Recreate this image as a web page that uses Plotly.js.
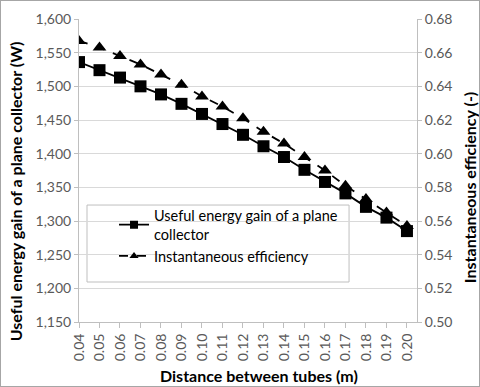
<!DOCTYPE html>
<html>
<head>
<meta charset="utf-8">
<script src="https://cdn.plot.ly/plotly-3.0.1.min.js"></script>
<style>
  body { margin: 0; background: #fff; }
  #frame { width: 480px; height: 387px; box-sizing: border-box; border: 1px solid #a6a6a6; }
  #chart { width: 478px; height: 385px; }
</style>
</head>
<body>
<div id="frame"><div id="chart"></div></div>
<script>
// distance between tubes (m)
const distance = [0.04, 0.05, 0.06, 0.07, 0.08, 0.09, 0.10, 0.11, 0.12,
                  0.13, 0.14, 0.15, 0.16, 0.17, 0.18, 0.19, 0.20];
// useful energy gain (W), left axis
const energyGain = [1536, 1524, 1513, 1500, 1488, 1474, 1459, 1444, 1428,
                    1411, 1395, 1376, 1358, 1341, 1321, 1305, 1285];
// instantaneous efficiency (-), right axis
const efficiency = [0.667, 0.663, 0.658, 0.653, 0.647, 0.641, 0.634, 0.628, 0.621,
                    0.613, 0.606, 0.598, 0.590, 0.581, 0.573, 0.565, 0.557];

const xTicks = distance.map(d => d.toFixed(2));
const leftTicks = [1150, 1200, 1250, 1300, 1350, 1400, 1450, 1500, 1550, 1600];
const rightTicks = [0.50, 0.52, 0.54, 0.56, 0.58, 0.60, 0.62, 0.64, 0.66, 0.68];

const energyName = "Useful energy gain of a plane<br>collector";
const effName = "Instantaneous efficiency";

const font = "Lato, 'Liberation Sans', sans-serif";
const grid = "#d9d9d9";
const axisLine = "#bfbfbf";
const tickColor = "#595959";

var trace1 = {
  x: distance,
  y: energyGain,
  name: energyName,
  type: "scatter",
  mode: "lines+markers",
  line: { color: "#000", width: 1.8 },
  marker: { symbol: "square", size: 12, color: "#000" },
  showlegend: false,
  yaxis: "y"
};

var trace2 = {
  x: distance,
  y: efficiency,
  name: effName,
  type: "scatter",
  mode: "lines+markers",
  line: { color: "#000", width: 1.8, dash: "dash" },
  marker: { symbol: "triangle-up", size: 12, color: "#000" },
  showlegend: false,
  yaxis: "y2"
};

// legend-only entries, the original legend uses smaller markers than the plot
var legend1 = {
  x: [null], y: [null], name: energyName, type: "scatter", mode: "lines+markers",
  line: { color: "#000", width: 1.8 },
  marker: { symbol: "square", size: 8, color: "#000" }
};
var legend2 = {
  x: [null], y: [null], name: effName, type: "scatter", mode: "lines+markers",
  line: { color: "#000", width: 1.8, dash: "dash" },
  marker: { symbol: "triangle-up", size: 8, color: "#000" }
};

// axis titles are placed as annotations so they sit where the original had them
var titles = [
  { text: "<b>Useful energy gain of a plane collector (W)</b>", x: -0.189, y: 0.432, textangle: -90 },
  { text: "<b>Instantaneous efficiency (-)</b>", x: 1.154, y: 0.442, textangle: -90 },
  { text: "<b>Distance between tubes (m)</b>", x: 0.5325, y: -0.175, textangle: 0 }
].map(t => Object.assign({
  xref: "paper", yref: "paper", xanchor: "center", yanchor: "middle",
  showarrow: false, font: { family: font, size: 16, color: "#000" }
}, t));

var layout = {
  width: 478,
  height: 385,
  margin: { l: 78, r: 62, t: 18, b: 64 },
  paper_bgcolor: "#fff",
  plot_bgcolor: "#fff",
  font: { family: font, size: 14, color: tickColor },
  showlegend: true,
  legend: {
    x: 0.1036, y: 0.405, xanchor: "left", yanchor: "top",
    bgcolor: "rgba(0,0,0,0)", borderwidth: 0,
    font: { family: font, size: 14.5, color: "#000" }
  },
  shapes: [{
    type: "rect", xref: "paper", yref: "paper", layer: "between",
    x0: 0.0237, x1: 0.799, y0: 0.132, y1: 0.386,
    fillcolor: "#fff", line: { color: "#bfbfbf", width: 1 }
  }],
  annotations: titles,
  xaxis: {
    range: [0.04, 0.2049],
    tickvals: distance,
    ticktext: xTicks,
    tickangle: -90,
    ticks: "outside", ticklen: 5, tickcolor: axisLine,
    showline: true, linecolor: axisLine,
    showgrid: false, zeroline: false,
    tickfont: { size: 14, color: tickColor }
  },
  yaxis: {
    range: [1150, 1600],
    tickvals: leftTicks,
    ticktext: leftTicks.map(v => v.toLocaleString("en-US")),
    ticks: "outside", ticklen: 4, tickcolor: axisLine,
    showline: true, linecolor: axisLine,
    showgrid: true, gridcolor: grid, zeroline: false,
    tickfont: { size: 14, color: tickColor }
  },
  yaxis2: {
    range: [0.50, 0.68],
    overlaying: "y",
    side: "right",
    tickvals: rightTicks,
    ticktext: rightTicks.map(v => v.toFixed(2)),
    ticks: "outside", ticklen: 4, tickcolor: axisLine,
    showline: true, linecolor: axisLine,
    showgrid: false, zeroline: false,
    tickfont: { size: 14, color: tickColor }
  }
};

Plotly.newPlot("chart", [trace1, trace2, legend1, legend2], layout, { displayModeBar: false, staticPlot: true });
</script>
</body>
</html>
